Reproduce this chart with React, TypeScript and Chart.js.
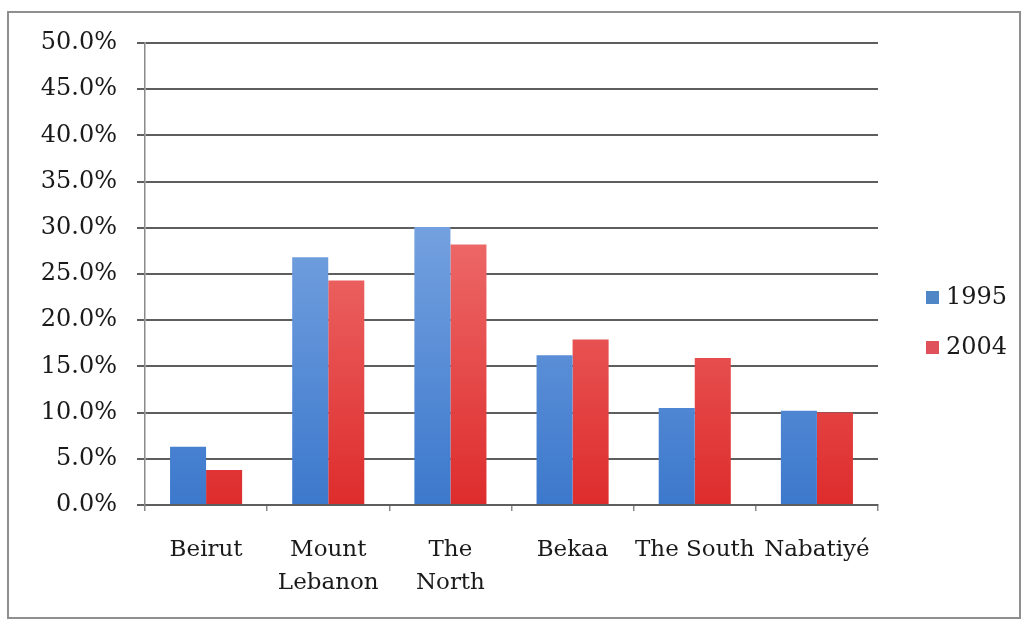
import React, { useEffect, useRef } from "react";
import { Chart, registerables } from "chart.js";

Chart.register(...registerables);

const categories: (string | string[])[] = [
  "Beirut",
  ["Mount", "Lebanon"],
  ["The", "North"],
  "Bekaa",
  "The South",
  "Nabatiyé",
];
const seriesNames = ["1995", "2004"];
const values1995 = [6.3, 26.8, 30.1, 16.2, 10.5, 10.2];
const values2004 = [3.8, 24.3, 28.2, 17.9, 15.9, 10.0];
const yMax = 50;
const yStep = 5;

const FONT = "'DejaVu Serif', serif";

function makeGradient(chart: any, top: string, bottom: string, fallback: string) {
  const area = chart.chartArea;
  if (!area) return fallback;
  const g = chart.ctx.createLinearGradient(0, area.top, 0, area.bottom);
  g.addColorStop(0, top);
  g.addColorStop(1, bottom);
  return g;
}

const legendPlugin = {
  id: "customLegend",
  afterDraw(chart: any) {
    const ctx = chart.ctx;
    const legendColors = ["#4f86c6", "#e0505a"];
    const x0 = 926;
    const y0 = 297;
    const gap = 50;
    ctx.save();
    chart.data.datasets.forEach((ds: any, i: number) => {
      const y = y0 + i * gap;
      ctx.fillStyle = legendColors[i];
      ctx.fillRect(x0, y - 6, 13, 13);
      ctx.fillStyle = "#1a1a1a";
      ctx.font = `24px ${FONT}`;
      ctx.textBaseline = "middle";
      ctx.textAlign = "left";
      ctx.fillText(ds.label, x0 + 20, y + 1);
    });
    ctx.restore();
  },
};

export default function App() {
  const ref = useRef<HTMLCanvasElement>(null);

  useEffect(() => {
    if (!ref.current) return;
    const chart = new Chart(ref.current, {
      type: "bar",
      data: {
        labels: categories,
        datasets: [
          {
            label: seriesNames[0],
            data: values1995,
            backgroundColor: (c: any) => makeGradient(c.chart, "#98bcec", "#3c78cc", "#5b8fd8"),
            borderWidth: 0,
            categoryPercentage: 0.59,
            barPercentage: 1,
          },
          {
            label: seriesNames[1],
            data: values2004,
            backgroundColor: (c: any) => makeGradient(c.chart, "#f89494", "#de2c2c", "#ee5a5a"),
            borderWidth: 0,
            categoryPercentage: 0.59,
            barPercentage: 1,
          },
        ],
      },
      options: {
        animation: false,
        responsive: false,
        devicePixelRatio: 1,
        layout: { padding: { top: 43, right: 151, bottom: 0, left: 0 } },
        plugins: {
          legend: { display: false },
          tooltip: { enabled: false },
        },
        scales: {
          x: {
            grid: {
              display: true,
              drawOnChartArea: false,
              offset: true,
              tickLength: 6,
              color: "#8a8a8a",
              lineWidth: 1.5,
            },
            border: { display: true, color: "#5e5e5e", width: 2 },
            ticks: {
              color: "#1a1a1a",
              font: { family: FONT, size: 23, lineHeight: 33 / 23 },
              padding: 23,
              maxRotation: 0,
              autoSkip: false,
            },
            afterFit: (s: any) => {
              s.height = 119;
            },
          },
          y: {
            min: 0,
            max: yMax,
            grid: {
              color: "#5e5e5e",
              lineWidth: 2,
              tickLength: 8,
            },
            border: { display: true, color: "#8a8a8a", width: 1.5 },
            ticks: {
              stepSize: yStep,
              color: "#1a1a1a",
              font: { family: FONT, size: 24 },
              padding: 20,
              callback: (v: any) => Number(v).toFixed(1) + "%",
            },
            afterFit: (s: any) => {
              s.width = 145;
            },
          },
        },
      },
      plugins: [legendPlugin],
    });
    return () => chart.destroy();
  }, []);

  return (
    <div style={{ position: "fixed", left: 0, top: 0, width: 1029, height: 624, background: "#fff" }}>
      <div
        style={{
          position: "absolute",
          left: 7,
          top: 11,
          width: 1014,
          height: 608,
          border: "2px solid #8f8f8f",
          boxSizing: "border-box",
        }}
      />
      <canvas ref={ref} width={1029} height={624} style={{ position: "absolute", left: 0, top: 0 }} />
    </div>
  );
}
